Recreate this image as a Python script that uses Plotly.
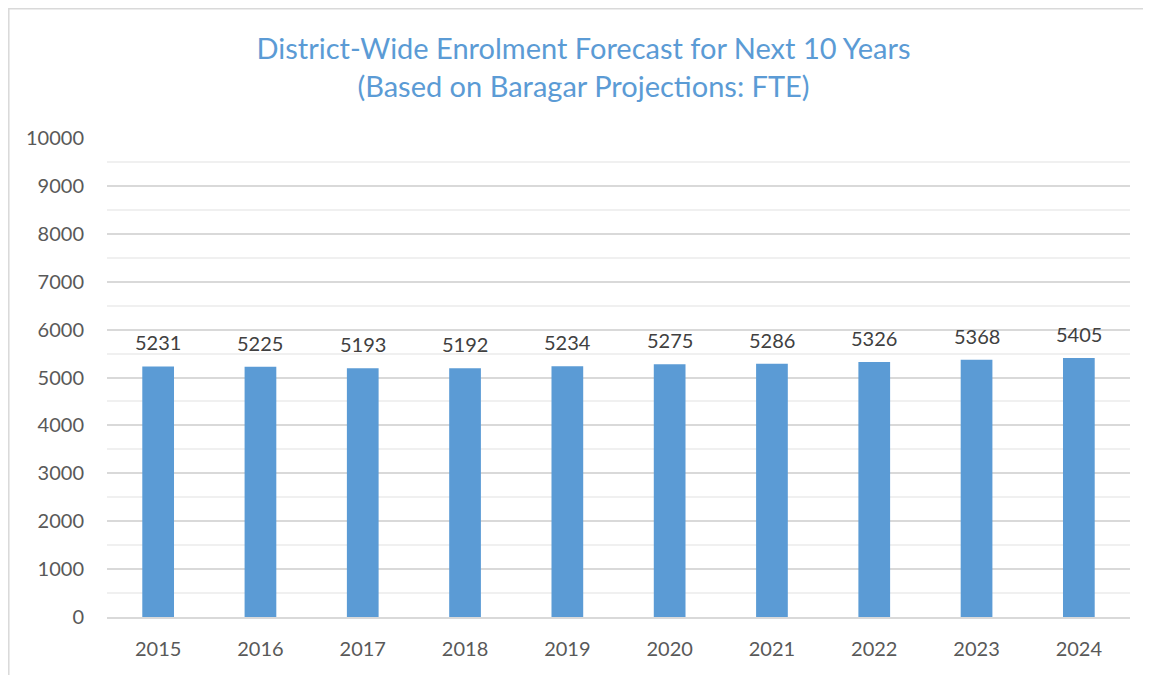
import plotly.graph_objects as go

years = ["2015", "2016", "2017", "2018", "2019", "2020", "2021", "2022", "2023", "2024"]
enrolment = [5231, 5225, 5193, 5192, 5234, 5275, 5286, 5326, 5368, 5405]
y_ticks = [0, 1000, 2000, 3000, 4000, 5000, 6000, 7000, 8000, 9000, 10000]

FONT = "Lato, 'Open Sans', sans-serif"

fig = go.Figure(go.Bar(
    x=years, y=enrolment,
    marker=dict(color="#5B9BD5", line=dict(width=0)),
    hoverinfo="x+y",
))

# data labels placed on the category axis by category index
annotations = [
    dict(x=i, y=v, xref="x", yref="y", text=str(v), showarrow=False,
         yanchor="middle", yshift=24,
         font=dict(size=20, color="#404040", family=FONT))
    for i, v in enumerate(enrolment)
]

fig.update_layout(
    width=1151, height=675,
    margin=dict(l=99, r=29, t=130, b=66),
    paper_bgcolor="white", plot_bgcolor="white",
    bargap=0.69,
    showlegend=False,
    annotations=annotations,
    title=dict(
        text="District-Wide Enrolment Forecast for Next 10 Years<br>(Based on Baragar Projections: FTE)",
        x=0.5, xanchor="center", y=0.924, yanchor="middle",
        font=dict(size=29, color="#5B9BD5", family=FONT),
    ),
    xaxis=dict(
        type="category",
        showgrid=False, showline=True, linecolor="#D9D9D9", linewidth=1.5,
        tickfont=dict(size=20, color="#595959", family=FONT),
        ticks="outside", ticklen=13, tickcolor="white",
    ),
    yaxis=dict(
        range=[0, 10000], tickvals=y_ticks, tickformat="d",
        showgrid=True, gridcolor="#D9D9D9", gridwidth=1.5,
        zeroline=False, showline=False,
        tickfont=dict(size=20, color="#595959", family=FONT),
        ticks="outside", ticklen=18, tickcolor="white",
        minor=dict(dtick=500, showgrid=True, gridcolor="#F0F0F0", gridwidth=1.5),
    ),
    shapes=[dict(type="rect", xref="paper", yref="paper",
                 x0=-0.096, x1=1.1, y0=-0.3, y1=1.2698,
                 line=dict(color="#D9D9D9", width=1.5), fillcolor="rgba(0,0,0,0)", layer="below")],
)

fig.write_html("out.html")
